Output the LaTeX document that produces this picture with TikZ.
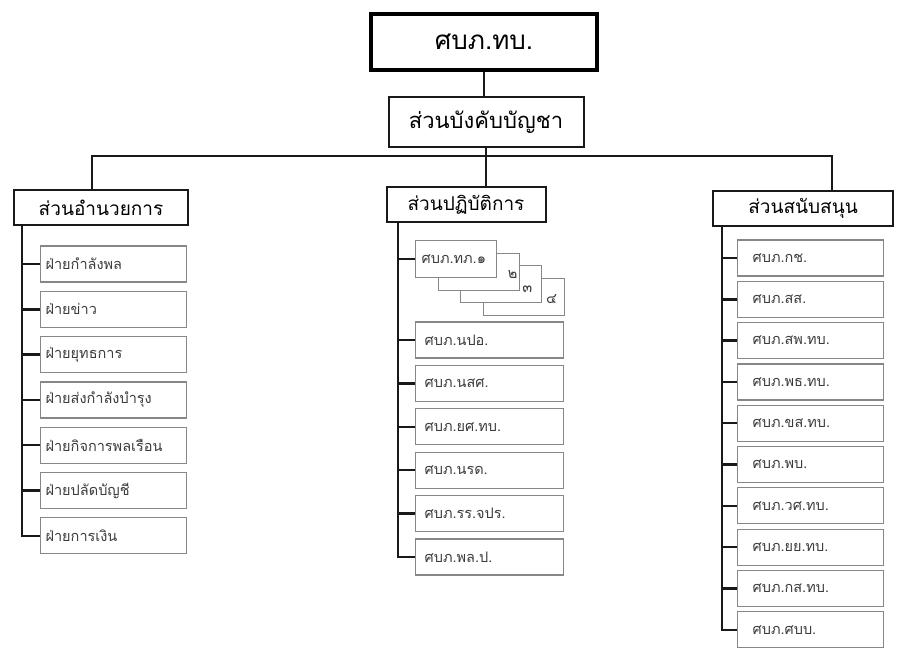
\documentclass[tikz,border=0pt]{standalone}
\usepackage{fontspec}
\usepackage{xcolor}
\newfontfamily\thaifont[Script=Thai]{Loma}
\definecolor{unitgray}{RGB}{135,135,135}
\definecolor{unittext}{RGB}{60,60,60}
\definecolor{linedark}{RGB}{25,25,25}
\tikzset{
  topbox/.style={draw=black, line width=4.5pt, minimum width=226pt, minimum height=56pt, font=\thaifont\fontsize{26}{30}\selectfont},
  cmdbox/.style={draw=linedark, line width=2pt, minimum width=195pt, minimum height=50pt, font=\thaifont\fontsize{22}{26}\selectfont},
  headbox/.style={draw=linedark, line width=2pt, minimum height=35pt, font=\thaifont\fontsize{19}{22}\selectfont},
  unitbox/.style={draw=unitgray, line width=1.2pt, fill=white, minimum height=36pt, anchor=west, align=left, text=unittext, font=\thaifont\fontsize{14.5}{17}\selectfont},
  admunit/.style={unitbox, inner xsep=5pt, text width=136pt},
  opsunit/.style={unitbox, inner xsep=9pt, text width=130pt},
  supunit/.style={unitbox, inner xsep=15pt, text width=116pt},
  stackbox/.style={draw=unitgray, line width=1.2pt, fill=white, minimum width=81pt, minimum height=37pt, anchor=north west, text=unittext, font=\thaifont\fontsize{14.5}{17}\selectfont},
  stacknum/.style={text=unittext, inner sep=0pt, font=\thaifont\fontsize{14.5}{17}\selectfont},
  spine/.style={draw=linedark, line width=2.4pt},
  bus/.style={draw=linedark, line width=2pt},
}
\begin{document}
\begin{tikzpicture}[x=1pt, y=-1pt]
\useasboundingbox (0,0) rectangle (901,648);

\node[topbox] (top) at (484,42) {ศบภ.ทบ.};
\node[cmdbox] (cmd) at (486,122) {ส่วนบังคับบัญชา};
\node[headbox, minimum width=174pt] (adm) at (101,207.5) {ส่วนอำนวยการ};
\node[headbox, minimum width=159pt] (ops) at (466,204.5) {ส่วนปฏิบัติการ};
\node[headbox, minimum width=180pt] (sup) at (803,208) {ส่วนสนับสนุน};

\draw[bus] (top.south) -- (top.south |- cmd.north);
\draw[bus] (cmd.south) -- ++(0,8) coordinate (hub);
\draw[bus] ([xshift=-9pt]adm.north) |- (hub) -| ([xshift=29pt]sup.north);
\draw[bus] (hub) -- (hub |- ops.north);

\coordinate (admspine) at (22,0);
\coordinate (opsspine) at (398,0);
\coordinate (supspine) at (722,0);

\foreach \t [count=\i] in {ฝ่ายกำลังพล,ฝ่ายข่าว,ฝ่ายยุทธการ,ฝ่ายส่งกำลังบำรุง,ฝ่ายกิจการพลเรือน,ฝ่ายปลัดบัญชี,ฝ่ายการเงิน}
  \node[admunit] (a\i) at (40,{264+45.3*(\i-1)}) {\t};

\node[stackbox] (t4) at (482.5,277.5) {};
\node[stackbox] (t3) at (460,265) {};
\node[stackbox] (t2) at (437.5,252.5) {};
\node[stackbox, align=left, text width=69pt, inner xsep=6pt] (t1) at (415,240) {ศบภ.ทภ.๑};
\node[stacknum] at ([shift={(-7,-16)}]t2.south east) {๒};
\node[stacknum] at ([shift={(-15,-14)}]t3.south east) {๓};
\node[stacknum] at ([shift={(-13,-17)}]t4.south east) {๔};

\foreach \t [count=\i] in {ศบภ.นปอ.,ศบภ.นสศ.,ศบภ.ยศ.ทบ.,ศบภ.นรด.,ศบภ.รร.จปร.,ศบภ.พล.ป.}
  \node[opsunit] (o\i) at (415,{340+43.4*(\i-1)}) {\t};

\foreach \t [count=\i] in {ศบภ.กช.,ศบภ.สส.,ศบภ.สพ.ทบ.,ศบภ.พธ.ทบ.,ศบภ.ขส.ทบ.,ศบภ.พบ.,ศบภ.วศ.ทบ.,ศบภ.ยย.ทบ.,ศบภ.กส.ทบ.,ศบภ.ศบบ.}
  \node[supunit] (s\i) at (737,{258+41.3*(\i-1)}) {\t};

\draw[spine] (adm.south -| admspine) |- (a7.west);
\foreach \i in {1,...,6}
  \draw[spine] (a\i.west) -- (a\i.west -| admspine);

\draw[spine] (ops.south -| opsspine) |- (o6.west);
\draw[spine] (t1.west) -- (t1.west -| opsspine);
\foreach \i in {1,...,5}
  \draw[spine] (o\i.west) -- (o\i.west -| opsspine);

\draw[spine] (sup.south -| supspine) |- (s10.west);
\foreach \i in {1,...,9}
  \draw[spine] (s\i.west) -- (s\i.west -| supspine);
\end{tikzpicture}
\end{document}
